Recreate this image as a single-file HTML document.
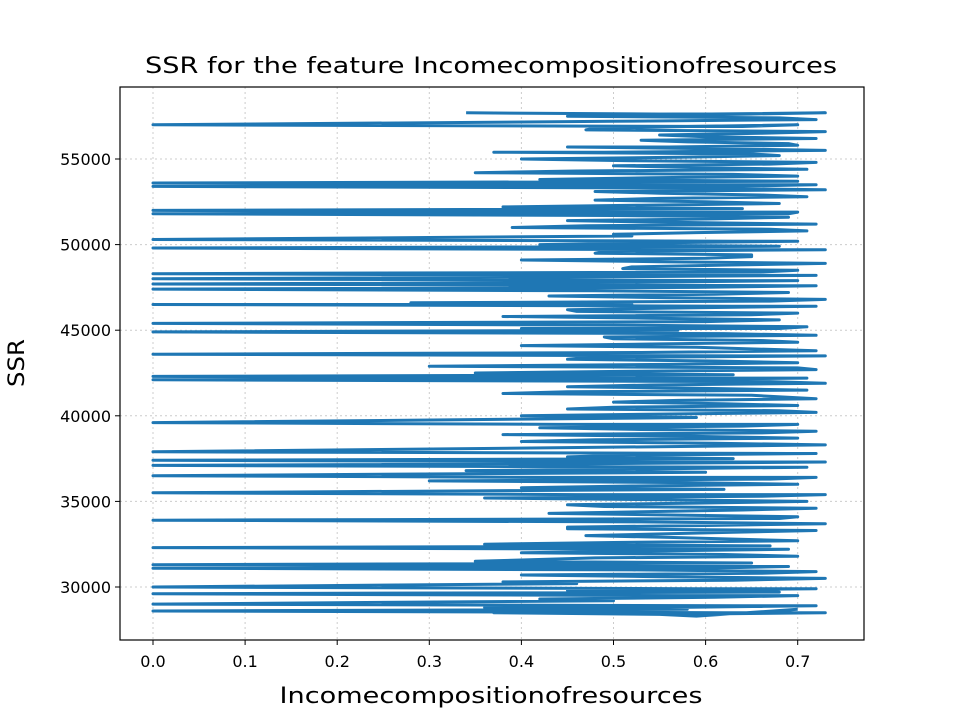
<!DOCTYPE html>
<html><head><meta charset="utf-8"><style>
body{margin:0;background:#fff;font-family:"Liberation Sans","DejaVu Sans",sans-serif}
svg text{font-family:"DejaVu Sans","Liberation Sans",sans-serif}
</style></head><body>
<svg id="chart" width="960" height="720" xmlns="http://www.w3.org/2000/svg">
<rect width="960" height="720" fill="#fff"/>
<g id="grid"></g>
<g id="series"></g>
<rect x="120" y="87" width="744" height="553" fill="none" stroke="#000" stroke-width="1.2"/>
<g id="axes"></g>
<text x="491" y="73" font-size="22" text-anchor="middle" textLength="692" lengthAdjust="spacingAndGlyphs">SSR for the feature Incomecompositionofresources</text>
<text x="491" y="703" font-size="22" text-anchor="middle" textLength="423" lengthAdjust="spacingAndGlyphs">Incomecompositionofresources</text>
<text x="0" y="0" font-size="22" text-anchor="middle" textLength="48" lengthAdjust="spacingAndGlyphs" transform="translate(24,363) rotate(-90)">SSR</text>
</svg>
<script>
const xTicks=[0.0,0.1,0.2,0.3,0.4,0.5,0.6,0.7];
const xTickLabels=["0.0","0.1","0.2","0.3","0.4","0.5","0.6","0.7"];
const yTicks=[30000,35000,40000,45000,50000,55000];
const yTickLabels=["30000","35000","40000","45000","50000","55000"];
const xVals=[0.34,0.73,0.45,0.72,0.00,0.70,0.48,0.73,0.55,0.72,0.58,0.70,0.45,0.73,0.37,0.68,0.40,0.72,0.50,0.71,0.35,0.70,0.42,0.00,0.72,0.00,0.73,0.55,0.71,0.48,0.68,0.38,0.00,0.70,0.00,0.69,0.45,0.72,0.39,0.71,0.50,0.00,0.70,0.42,0.00,0.73,0.48,0.65,0.40,0.73,0.52,0.70,0.00,0.72,0.00,0.70,0.00,0.72,0.00,0.69,0.43,0.73,0.28,0.00,0.72,0.45,0.70,0.38,0.68,0.00,0.71,0.40,0.00,0.72,0.50,0.70,0.40,0.72,0.00,0.73,0.45,0.70,0.30,0.72,0.35,0.00,0.71,0.00,0.73,0.45,0.71,0.38,0.72,0.50,0.70,0.45,0.72,0.40,0.00,0.70,0.42,0.72,0.38,0.70,0.40,0.73,0.00,0.72,0.45,0.00,0.73,0.00,0.71,0.34,0.00,0.72,0.30,0.70,0.40,0.00,0.73,0.36,0.71,0.45,0.72,0.43,0.70,0.00,0.73,0.45,0.72,0.47,0.70,0.36,0.00,0.69,0.40,0.70,0.35,0.00,0.69,0.00,0.72,0.40,0.73,0.38,0.00,0.72,0.45,0.00,0.70,0.42,0.00,0.72,0.36,0.00,0.73,0.37,0.55,0.70];
const yVals=[57700,57700,57500,57300,57000,57000,56800,56600,56400,56200,56000,55800,55700,55500,55400,55200,55000,54800,54600,54400,54200,54000,53800,53600,53500,53400,53200,53000,52800,52600,52400,52200,52000,51900,51800,51600,51400,51200,51000,50800,50600,50300,50200,50000,49800,49700,49500,49300,49100,48900,48700,48500,48300,48200,48000,47900,47700,47600,47400,47200,47000,46800,46600,46500,46400,46200,46000,45800,45600,45400,45200,45100,44900,44700,44500,44300,44100,43800,43600,43500,43300,43100,42900,42700,42500,42300,42200,42100,41900,41700,41500,41300,41000,40800,40600,40400,40200,40000,39600,39500,39300,39100,38900,38700,38500,38300,37900,37800,37600,37400,37300,37100,37000,36800,36500,36400,36200,36000,35800,35500,35400,35200,35000,34800,34600,34300,34100,33900,33700,33500,33300,33000,32700,32500,32300,32200,32000,31800,31500,31300,31200,31100,30900,30700,30500,30300,30000,29900,29800,29600,29500,29300,29000,28900,28800,28600,28500,28500,28400,28700];
const midX=[0.62,0.55,0.68,0.50,0.64,0.58,0.47,0.66,0.60,0.53,0.69,0.56,0.61,0.49,0.65,0.57,0.52,0.67,0.59,0.46,0.63,0.54,0.70,0.51,0.62,0.58,0.48,0.66,0.55,0.60,0.53,0.64,0.57,0.69,0.50,0.61,0.56,0.47,0.67,0.59,0.52,0.63,0.54,0.68,0.58,0.49,0.65,0.60,0.55,0.62,0.51,0.66,0.57,0.45,0.64,0.53,0.69,0.59,0.48,0.61,0.56,0.67,0.52,0.63,0.58,0.46,0.65,0.54,0.60,0.50,0.68,0.57,0.62,0.49,0.66,0.55,0.59,0.53,0.64,0.47,0.61,0.56,0.70,0.52,0.63,0.58,0.48,0.67,0.54,0.60,0.45,0.65,0.57,0.62,0.50,0.68,0.55,0.59,0.44,0.64,0.53,0.66,0.58,0.48,0.61,0.56,0.69,0.51,0.63,0.57,0.47,0.65,0.54,0.60,0.43,0.67,0.58,0.52,0.62,0.46,0.66,0.55,0.59,0.49,0.64,0.57,0.68,0.53,0.61,0.45,0.63,0.56,0.50,0.67,0.58,0.54,0.62,0.48,0.65,0.57,0.60,0.52,0.66,0.55,0.63,0.46,0.59,0.53,0.68,0.57,0.61,0.50,0.64,0.56,0.58,0.62,0.55,0.60,0.59,0.57];
const midY=[57600,57600,57400,57200,56900,56900,56700,56500,56300,56100,55900,55700,55600,55400,55300,55100,54900,54700,54500,54300,54100,53900,53700,53500,53400,53300,53100,52900,52700,52500,52300,52100,51900,51800,51700,51500,51300,51100,50900,50700,50500,50200,50100,49900,49700,49600,49400,49200,49000,48800,48600,48400,48200,48100,47900,47800,47600,47500,47300,47100,46900,46700,46500,46400,46300,46100,45900,45700,45500,45300,45100,45000,44800,44600,44400,44200,44000,43700,43500,43400,43200,43000,42800,42600,42400,42200,42100,42000,41800,41600,41400,41200,40900,40700,40500,40300,40100,39900,39500,39400,39200,39000,38800,38600,38400,38200,37800,37700,37500,37300,37200,37000,36900,36700,36400,36300,36100,35900,35700,35400,35300,35100,34900,34700,34500,34200,34000,33800,33600,33400,33200,32900,32600,32400,32200,32100,31900,31700,31400,31200,31100,31000,30800,30600,30400,30200,29900,29800,29700,29500,29400,29200,28900,28800,28700,28500,28400,28400,28300];
const NS="http://www.w3.org/2000/svg";
const X=v=>153+v*921;
const Y=v=>587-(v-30000)*0.01712;
const grid=document.getElementById('grid'),axes=document.getElementById('axes'),series=document.getElementById('series');
function mk(tag,attrs,parent){const e=document.createElementNS(NS,tag);for(const k in attrs)e.setAttribute(k,attrs[k]);parent.appendChild(e);return e;}
xTicks.forEach((t,i)=>{
  const g=mk('line',{x1:X(t),x2:X(t),y1:87,y2:640,stroke:'#ccc','stroke-width':1,'stroke-dasharray':'2,3'},grid);
  
  
  const tk=mk('line',{x1:X(t),x2:X(t),y1:640,y2:645,stroke:'#000','stroke-width':1},axes);
  
  
  const tx=mk('text',{x:X(t),y:667,'font-size':16,'text-anchor':'middle'},axes);
  tx.textContent=xTickLabels[i];
  
  
});
yTicks.forEach((t,i)=>{
  const g=mk('line',{x1:120,x2:864,y1:Y(t),y2:Y(t),stroke:'#ccc','stroke-width':1,'stroke-dasharray':'2,3'},grid);
  
  
  const tk=mk('line',{x1:115,x2:120,y1:Y(t),y2:Y(t),stroke:'#000','stroke-width':1},axes);
  
  
  const tx=mk('text',{x:111,y:Y(t)+6,'font-size':16,'text-anchor':'end'},axes);
  tx.textContent=yTickLabels[i];
  
  
});
const ptsArr=[];
for(let i=0;i<xVals.length;i++){
  ptsArr.push(X(xVals[i]).toFixed(1)+','+Y(yVals[i]).toFixed(1));
  if(i<midX.length&&i<midY.length&&i<xVals.length-1) ptsArr.push(X(midX[i]).toFixed(1)+','+Y(midY[i]).toFixed(1));
}
const pl=mk('polyline',{points:ptsArr.join(' '),fill:'none',stroke:'#1f77b4','stroke-width':3,'stroke-linejoin':'round'},series);


</script>
</body></html>
